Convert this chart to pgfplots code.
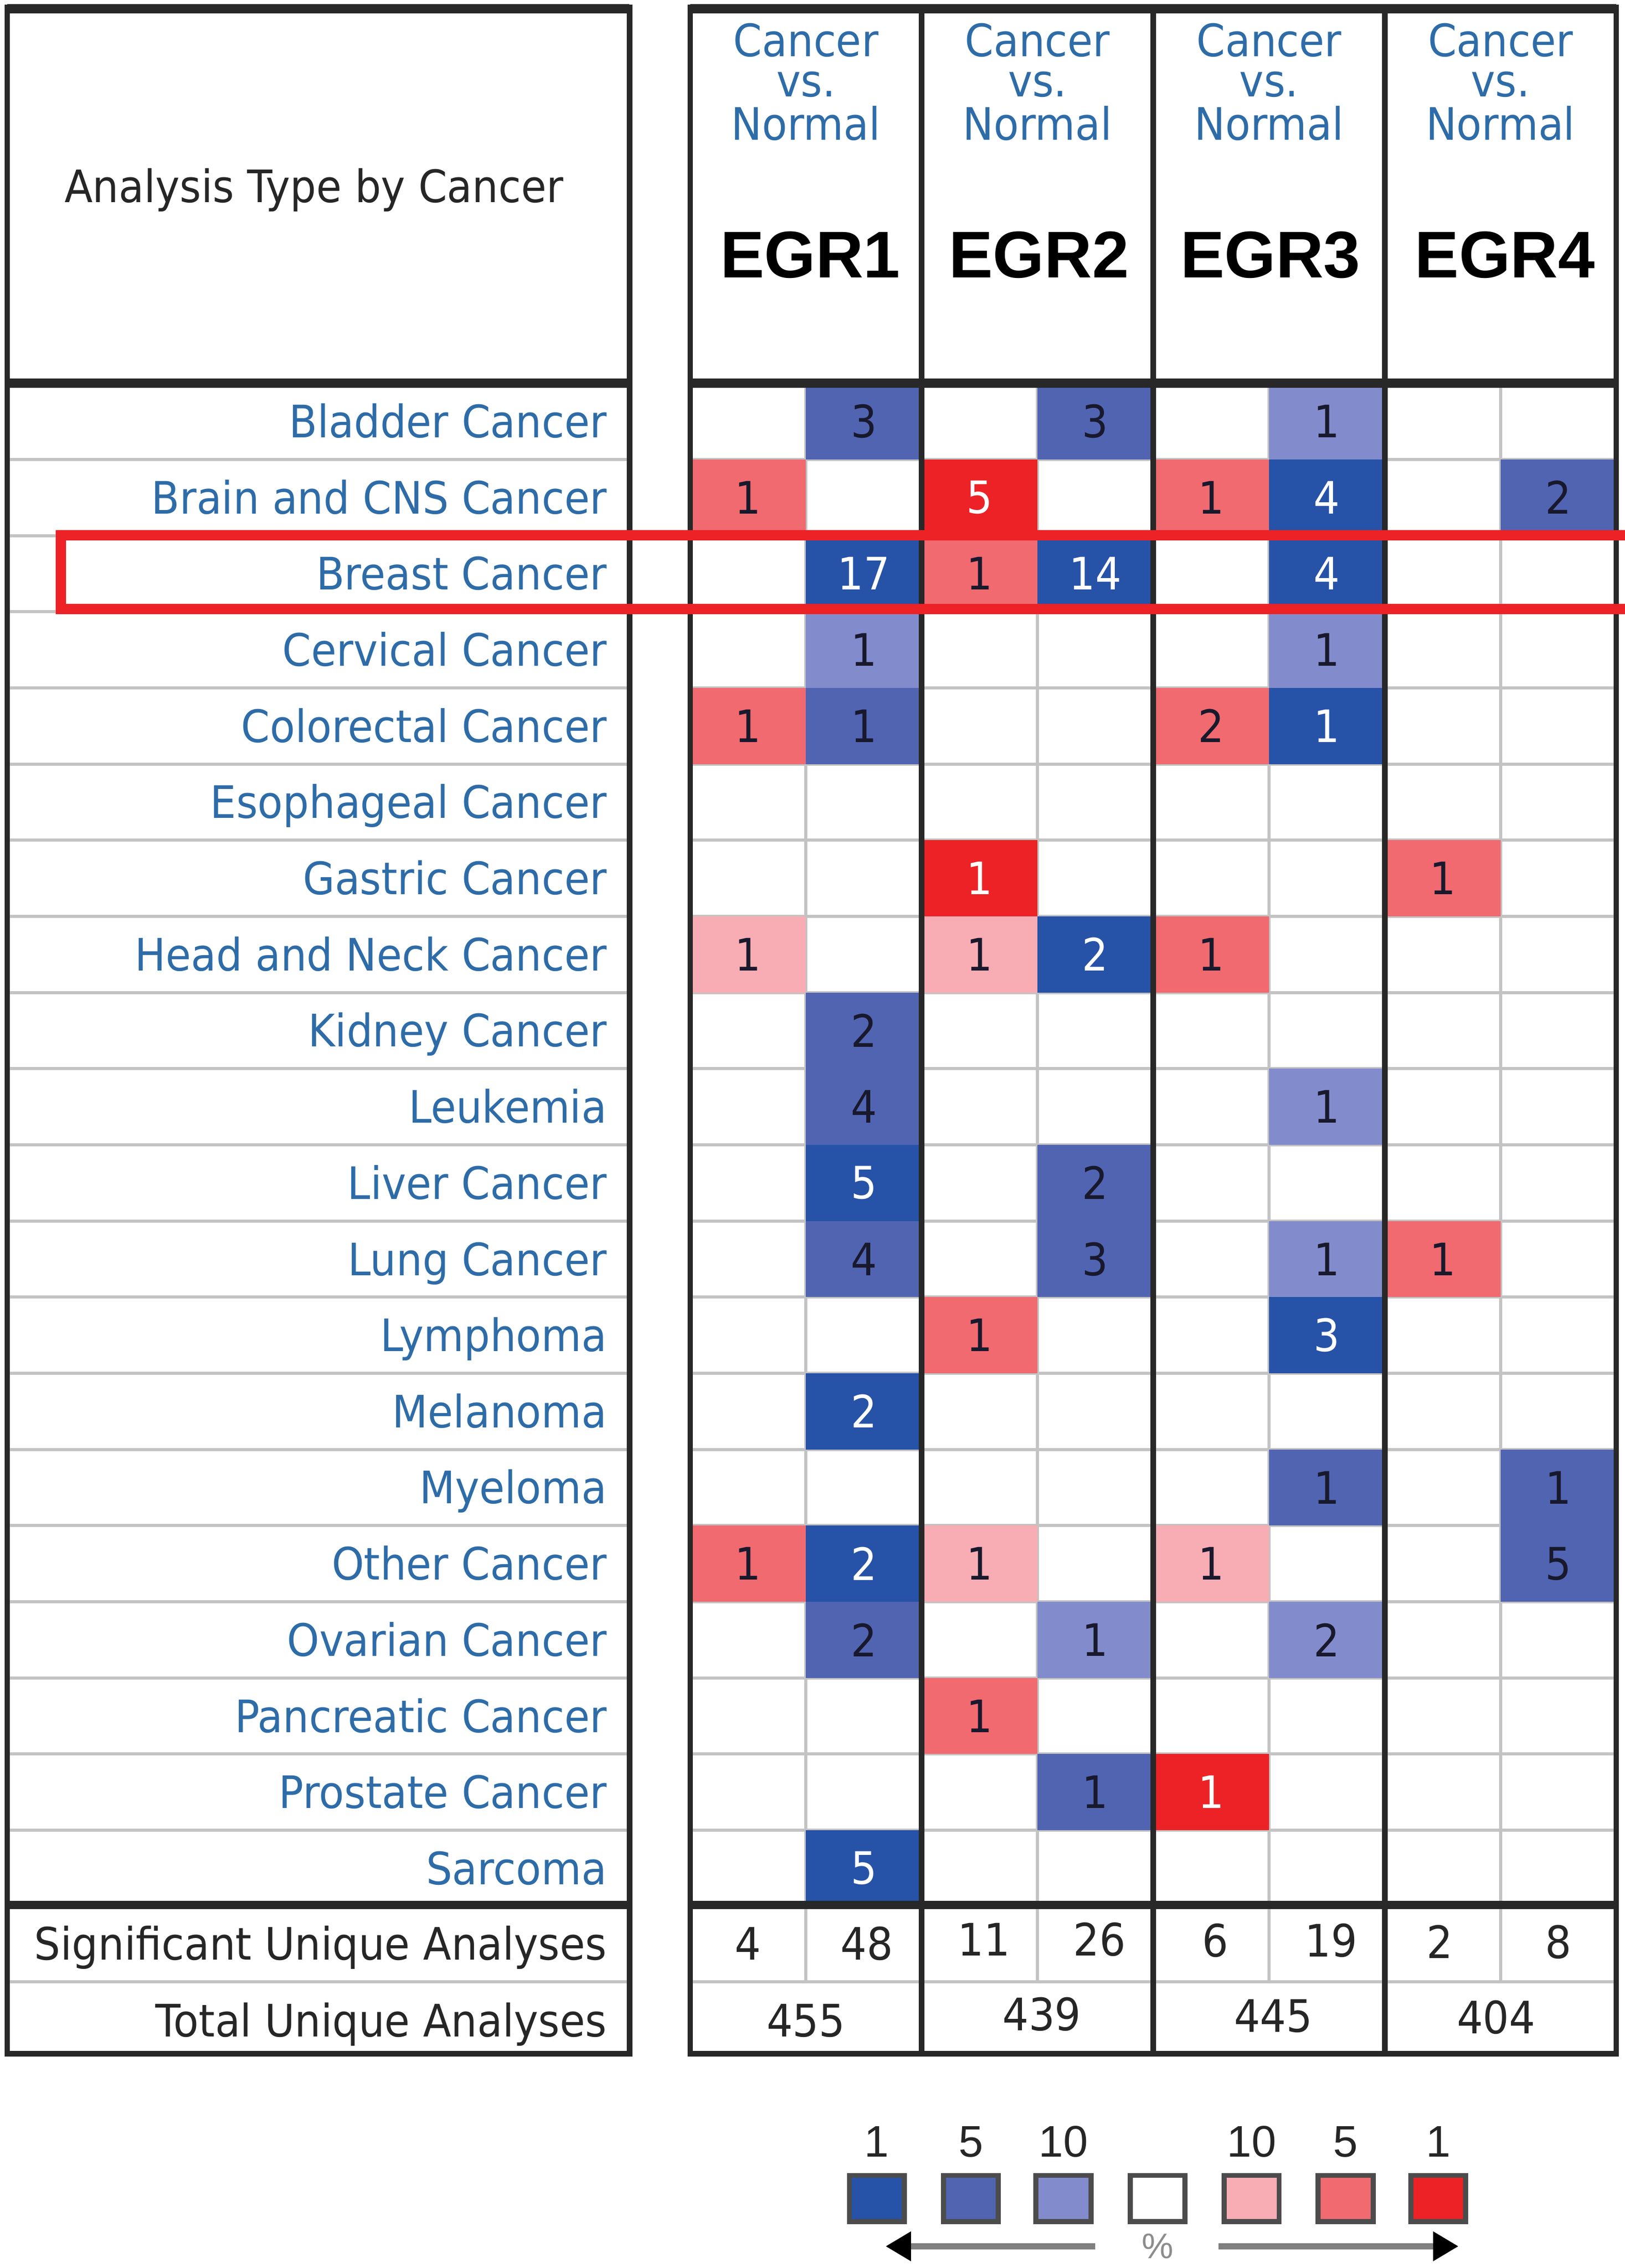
\documentclass[border=0pt]{standalone}
\usepackage{pgfplots}
\pgfplotsset{compat=1.18}
\usepackage{pgfplotstable}
\usepackage{fontspec}
\setmainfont{DejaVu Sans}[FakeStretch=0.92]
\newfontfamily\arialf{Liberation Sans}
\usetikzlibrary{arrows.meta}

\definecolor{cDB}{RGB}{38,82,168}
\definecolor{cMB}{RGB}{80,100,178}
\definecolor{cLB}{RGB}{130,140,204}
\definecolor{cLR}{RGB}{248,172,180}
\definecolor{cMR}{RGB}{240,106,112}
\definecolor{cBR}{RGB}{236,34,38}
\definecolor{lblue}{RGB}{46,108,168}
\definecolor{frame}{RGB}{40,40,40}
\definecolor{gridc}{RGB}{195,195,195}
\definecolor{darktxt}{RGB}{25,25,45}

\newlength\cellu
\setlength\cellu{0.1mm}
\pgfdeclareplotmark{cell}{%
  \pgfpathrectangle{\pgfpoint{-40\cellu}{-26.33\cellu}}{\pgfpoint{80\cellu}{52.65\cellu}}%
  \pgfusepathqfill}
\pgfdeclareplotmark{swatch}{%
  \pgfpathrectangle{\pgfpoint{-19\cellu}{-16\cellu}}{\pgfpoint{38\cellu}{32\cellu}}%
  \pgfusepathqfillstroke}

\newcommand\lab{\fontsize{8.8}{10}\selectfont}

% columns: 0 EGR1 up, 1 EGR1 down, 2 EGR2 up, 3 EGR2 down,
%          4 EGR3 up, 5 EGR3 down, 6 EGR4 up, 7 EGR4 down
% rows: 0 Bladder ... 19 Sarcoma; n = number of analyses
% dark blue (top 1%)
\pgfplotstableread{
col row n
5 1 4
1 2 17
3 2 14
5 2 4
5 4 1
3 7 2
1 10 5
5 12 3
1 13 2
1 15 2
1 19 5
}\tDB
% medium blue (top 5%)
\pgfplotstableread{
col row n
1 0 3
3 0 3
7 1 2
1 4 1
1 8 2
1 9 4
3 10 2
1 11 4
3 11 3
5 14 1
7 14 1
7 15 5
1 16 2
3 18 1
}\tMB
% light blue (top 10%)
\pgfplotstableread{
col row n
5 0 1
1 3 1
5 3 1
5 9 1
5 11 1
3 16 1
5 16 2
}\tLB
% light red (top 10%)
\pgfplotstableread{
col row n
0 7 1
2 7 1
2 15 1
4 15 1
}\tLR
% medium red (top 5%)
\pgfplotstableread{
col row n
0 1 1
4 1 1
2 2 1
0 4 1
4 4 2
6 6 1
4 7 1
6 11 1
2 12 1
0 15 1
2 17 1
}\tMR
% bright red (top 1%)
\pgfplotstableread{
col row n
2 1 5
2 6 1
4 18 1
}\tBR

\pgfplotstableread{
x c
606 db
671 mb
735 lb
800 wh
865 lr
930 mr
994 br
}\legendtab

\pgfplotsset{
  cellplot/.style={only marks, mark=cell, mark options={fill=#1, draw=none},
    point meta=explicit symbolic,
    nodes near coords={\pgfplotspointmeta},
    every node near coord/.append style={anchor=center, inner sep=0pt, font=\lab}},
}

\begin{document}
\begin{tikzpicture}
\begin{axis}[
  scale only axis, width=11.23cm, height=15.68cm,
  xmin=0, xmax=1123, ymin=0, ymax=1568, y dir=reverse,
  hide axis, clip=false, set layers,
]
% thin grid
\begin{pgfonlayer}{axis background}
\pgfplotsinvokeforeach{1,...,19}{
  \draw[gridc, line width=0.6pt] (axis cs:5,{265+52.65*#1}) -- (axis cs:435,{265+52.65*#1});
  \draw[gridc, line width=0.6pt] (axis cs:477,{265+52.65*#1}) -- (axis cs:1117,{265+52.65*#1});
}
\draw[gridc, line width=0.6pt] (axis cs:5,1370) -- (axis cs:435,1370);
\draw[gridc, line width=0.6pt] (axis cs:477,1370) -- (axis cs:1117,1370);
\pgfplotsinvokeforeach{557,717,877,1037}{
  \draw[gridc, line width=0.6pt] (axis cs:#1,265) -- (axis cs:#1,1370);
}
\end{pgfonlayer}

% heat map cells
\addplot[cellplot=cDB, every node near coord/.append style={text=white}]
  table[x expr=517+80*\thisrow{col}, y expr=291.3+52.65*\thisrow{row}, meta=n]{\tDB};
\addplot[cellplot=cMB, every node near coord/.append style={text=darktxt}]
  table[x expr=517+80*\thisrow{col}, y expr=291.3+52.65*\thisrow{row}, meta=n]{\tMB};
\addplot[cellplot=cLB, every node near coord/.append style={text=darktxt}]
  table[x expr=517+80*\thisrow{col}, y expr=291.3+52.65*\thisrow{row}, meta=n]{\tLB};
\addplot[cellplot=cLR, every node near coord/.append style={text=darktxt}]
  table[x expr=517+80*\thisrow{col}, y expr=291.3+52.65*\thisrow{row}, meta=n]{\tLR};
\addplot[cellplot=cMR, every node near coord/.append style={text=darktxt}]
  table[x expr=517+80*\thisrow{col}, y expr=291.3+52.65*\thisrow{row}, meta=n]{\tMR};
\addplot[cellplot=cBR, every node near coord/.append style={text=white}]
  table[x expr=517+80*\thisrow{col}, y expr=291.3+52.65*\thisrow{row}, meta=n]{\tBR};

% legend swatches
\addplot[scatter, only marks, scatter src=explicit symbolic,
  scatter/classes={
    db={mark=swatch,fill=cDB,draw=black!70,line width=1pt},
    mb={mark=swatch,fill=cMB,draw=black!70,line width=1pt},
    lb={mark=swatch,fill=cLB,draw=black!70,line width=1pt},
    wh={mark=swatch,fill=white,draw=black!70,line width=1pt},
    lr={mark=swatch,fill=cLR,draw=black!70,line width=1pt},
    mr={mark=swatch,fill=cMR,draw=black!70,line width=1pt},
    br={mark=swatch,fill=cBR,draw=black!70,line width=1pt}}]
  table[x=x, y expr=1520, meta=c]{\legendtab};

\begin{pgfonlayer}{axis foreground}
% frames
\draw[frame, line width=1.1pt] (axis cs:5,5) rectangle (axis cs:435,1420);
\draw[frame, line width=1.1pt] (axis cs:477,5) rectangle (axis cs:1117,1420);
\draw[frame, line width=1.8pt] (axis cs:5,6) -- (axis cs:435,6);
\draw[frame, line width=1.8pt] (axis cs:477,6) -- (axis cs:1117,6);
\draw[frame, line width=1.8pt] (axis cs:5,265) -- (axis cs:435,265);
\draw[frame, line width=1.8pt] (axis cs:477,265) -- (axis cs:1117,265);
\draw[frame, line width=1.6pt] (axis cs:5,1317) -- (axis cs:435,1317);
\draw[frame, line width=1.6pt] (axis cs:477,1317) -- (axis cs:1117,1317);
\pgfplotsinvokeforeach{637,797,957}{
  \draw[frame, line width=1.1pt] (axis cs:#1,5) -- (axis cs:#1,1420);
}

% highlight box
\draw[cBR, line width=2pt] (axis cs:1130,370) -- (axis cs:42,370) -- (axis cs:42,421) -- (axis cs:1130,421);
\end{pgfonlayer}

% header texts
\node[anchor=base, inner sep=0pt, font=\lab, text=black!85] at (axis cs:217,140) {Analysis Type by Cancer};
\pgfplotsinvokeforeach{557,717,877,1037}{
  \node[anchor=base, inner sep=0pt, font=\lab, text=lblue] at (axis cs:#1,39) {Cancer};
  \node[anchor=base, inner sep=0pt, font=\lab, text=lblue] at (axis cs:#1,67) {vs.};
  \node[anchor=base, inner sep=0pt, font=\lab, text=lblue] at (axis cs:#1,97) {Normal};
}
\node[anchor=base, inner sep=0pt, font=\arialf\bfseries\fontsize{13}{14}\selectfont] at (axis cs:560,192) {EGR1};
\node[anchor=base, inner sep=0pt, font=\arialf\bfseries\fontsize{13}{14}\selectfont] at (axis cs:718,192) {EGR2};
\node[anchor=base, inner sep=0pt, font=\arialf\bfseries\fontsize{13}{14}\selectfont] at (axis cs:878,192) {EGR3};
\node[anchor=base, inner sep=0pt, font=\arialf\bfseries\fontsize{13}{14}\selectfont] at (axis cs:1040,192) {EGR4};

% row labels
\begin{scope}[every node/.style={anchor=base east, inner sep=0pt, font=\lab, text=lblue}]
\node at (axis cs:420,302.5) {Bladder Cancer};
\node at (axis cs:420,355.2) {Brain and CNS Cancer};
\node at (axis cs:420,407.8) {Breast Cancer};
\node at (axis cs:420,460.5) {Cervical Cancer};
\node at (axis cs:420,513.1) {Colorectal Cancer};
\node at (axis cs:420,565.8) {Esophageal Cancer};
\node at (axis cs:420,618.4) {Gastric Cancer};
\node at (axis cs:420,671.1) {Head and Neck Cancer};
\node at (axis cs:420,723.7) {Kidney Cancer};
\node at (axis cs:420,776.4) {Leukemia};
\node at (axis cs:420,829.0) {Liver Cancer};
\node at (axis cs:420,881.7) {Lung Cancer};
\node at (axis cs:420,934.3) {Lymphoma};
\node at (axis cs:420,987.0) {Melanoma};
\node at (axis cs:420,1039.6) {Myeloma};
\node at (axis cs:420,1092.3) {Other Cancer};
\node at (axis cs:420,1144.9) {Ovarian Cancer};
\node at (axis cs:420,1197.6) {Pancreatic Cancer};
\node at (axis cs:420,1250.2) {Prostate Cancer};
\node at (axis cs:420,1302.9) {Sarcoma};
\end{scope}

% summary rows
\begin{scope}[every node/.style={anchor=base, inner sep=0pt, font=\lab, text=black!85}]
\node[anchor=base east] at (axis cs:420,1355) {Significant Unique Analyses};
\node[anchor=base east] at (axis cs:420,1408) {Total Unique Analyses};
\node at (axis cs:517,1355) {4};
\node at (axis cs:599,1355) {48};
\node at (axis cs:680,1352) {11};
\node at (axis cs:760,1352) {26};
\node at (axis cs:840,1353) {6};
\node at (axis cs:920,1353) {19};
\node at (axis cs:995,1354) {2};
\node at (axis cs:1077,1354) {8};
\node at (axis cs:557,1408) {455};
\node at (axis cs:720,1404) {439};
\node at (axis cs:880,1405) {445};
\node at (axis cs:1034,1406) {404};
\end{scope}

% legend labels and arrows
\begin{scope}[every node/.style={anchor=base, inner sep=0pt, font=\arialf\fontsize{8.7}{10}\selectfont, text=black!85}]
\node at (axis cs:606,1491) {1};
\node at (axis cs:671,1491) {5};
\node at (axis cs:735,1491) {10};
\node at (axis cs:865,1491) {10};
\node at (axis cs:930,1491) {5};
\node at (axis cs:994,1491) {1};
\end{scope}
\node[anchor=center, inner sep=0pt, font=\arialf\fontsize{7}{8}\selectfont, text=black!45] at (axis cs:800,1553) {\%};
\draw[black!50, line width=1.3pt, -{Triangle[color=black, length=5pt, width=5.5pt]}] (axis cs:757,1553) -- (axis cs:612,1553);
\draw[black!50, line width=1.3pt, -{Triangle[color=black, length=5pt, width=5.5pt]}] (axis cs:842,1553) -- (axis cs:1008,1553);

\coordinate (TL) at (axis cs:0,0);
\coordinate (BR) at (axis cs:1123,1568);
\end{axis}
\pgfresetboundingbox
\path[use as bounding box] (TL) rectangle (BR);
\end{tikzpicture}
\end{document}
